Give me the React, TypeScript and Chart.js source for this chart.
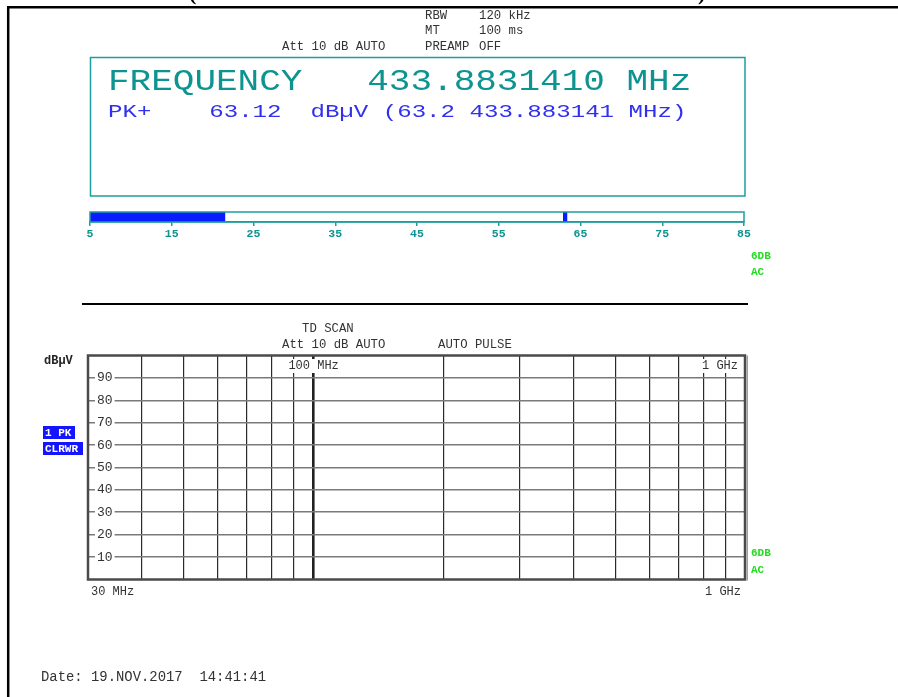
import React, { useEffect, useRef } from "react";
import { Chart, registerables } from "chart.js";

Chart.register(...registerables);

const MONO = '"Liberation Mono", "DejaVu Sans Mono", monospace';

// ---- data ----
const freqMinMHz = 30;
const freqMaxMHz = 1000;
const freqGridMHz = [40, 50, 60, 70, 80, 90, 100, 200, 300, 400, 500, 600, 700, 800, 900];
const levelMin = 0;
const levelMax = 100;
const levelTicks = [10, 20, 30, 40, 50, 60, 70, 80, 90];
const traceFreqMHz: number[] = [];
const traceLevel: number[] = [];

const meterMin = 5;
const meterMax = 85;
const meterTicks = [5, 15, 25, 35, 45, 55, 65, 75, 85];
const meterLevel = 21.5;
const peakLevel = 63.12;

const headerRows = [
  ["RBW", "120 kHz"],
  ["MT", "100 ms"],
  ["PREAMP", "OFF"],
];
const freqLine = "FREQUENCY   433.8831410 MHz";
const pkLine = "PK+    63.12  dBµV (63.2 433.883141 MHz)";
const dateLine = "Date: 19.NOV.2017  14:41:41";

const TEAL = "#1c9e9e";
const TEAL_TXT = "#0e9490";
const BLUE = "#0a1cff";
const GREEN = "#22dd22";
const GREY_TXT = "#333";

function txt(ctx: CanvasRenderingContext2D, s: string, x: number, y: number, font: string, color: string, align: CanvasTextAlign = "left") {
  ctx.font = font;
  ctx.fillStyle = color;
  ctx.textAlign = align;
  ctx.textBaseline = "middle";
  ctx.fillText(s, x, y);
}

function txtScaled(ctx: CanvasRenderingContext2D, s: string, x: number, y: number, font: string, color: string, sy: number) {
  ctx.save();
  ctx.translate(x, y);
  ctx.scale(1, sy);
  txt(ctx, s, 0, 0, font, color);
  ctx.restore();
}

function txtBox(ctx: CanvasRenderingContext2D, s: string, x: number, y: number, font: string, color: string, align: CanvasTextAlign) {
  ctx.font = font;
  const w = ctx.measureText(s).width;
  let lx = x;
  if (align === "center") lx = x - w / 2;
  else if (align === "right") lx = x - w;
  ctx.fillStyle = "#fff";
  ctx.fillRect(lx - 2, y - 7, w + 4, 14);
  txt(ctx, s, x, y, font, color, align);
}

const pagePlugin = {
  id: "pageDecor",
  afterDraw(chart: any) {
    const ctx: CanvasRenderingContext2D = chart.ctx;
    const { left, right, top, bottom } = chart.chartArea;
    const xs = chart.scales.x;
    ctx.save();

    // page frame
    ctx.strokeStyle = "#000";
    ctx.lineWidth = 2.5;
    ctx.beginPath();
    ctx.moveTo(8.2, 697);
    ctx.lineTo(8.2, 7.2);
    ctx.lineTo(898, 7.2);
    ctx.stroke();

    // partial parens at the very top
    ctx.font = "bold 22px serif";
    ctx.fillStyle = "#000";
    ctx.textAlign = "left";
    ctx.textBaseline = "alphabetic";
    ctx.fillText("(", 189, 0);
    ctx.fillText(")", 698, 0);

    const small = `12.3px ${MONO}`;
    // header
    txt(ctx, headerRows[0][0], 425, 16, small, GREY_TXT);
    txt(ctx, headerRows[0][1], 479, 16, small, GREY_TXT);
    txt(ctx, headerRows[1][0], 425, 31, small, GREY_TXT);
    txt(ctx, headerRows[1][1], 479, 31, small, GREY_TXT);
    txt(ctx, "Att 10 dB AUTO", 282, 47, small, GREY_TXT);
    txt(ctx, headerRows[2][0], 425, 47, small, GREY_TXT);
    txt(ctx, headerRows[2][1], 479, 47, small, GREY_TXT);

    // frequency display box
    ctx.strokeStyle = TEAL;
    ctx.lineWidth = 1.5;
    ctx.strokeRect(90.5, 57.5, 654.5, 138.5);
    txtScaled(ctx, freqLine, 108, 82.5, `36px ${MONO}`, TEAL_TXT, 0.8);
    txtScaled(ctx, pkLine, 108, 112, `24.1px ${MONO}`, "#3030ee", 0.8);

    // 6DB AC (upper)
    const gfont = `bold 11px ${MONO}`;
    txt(ctx, "6DB", 751, 256, gfont, GREEN);
    txt(ctx, "AC", 751, 272, gfont, GREEN);

    // separator line
    ctx.strokeStyle = "#000";
    ctx.lineWidth = 1.8;
    ctx.beginPath();
    ctx.moveTo(82, 304);
    ctx.lineTo(748, 304);
    ctx.stroke();

    // scan header
    txt(ctx, "TD SCAN", 302, 329, small, GREY_TXT);
    txt(ctx, "Att 10 dB AUTO", 282, 345, small, GREY_TXT);
    txt(ctx, "AUTO PULSE", 438, 345, small, GREY_TXT);

    // unit label
    txt(ctx, "dBµV", 44, 361, `bold 12px ${MONO}`, "#222");

    // trace labels
    ctx.fillStyle = "#1414ff";
    ctx.fillRect(43, 426, 32, 13);
    ctx.fillRect(43, 442, 40, 13);
    txt(ctx, "1 PK", 45, 433, `bold 11px ${MONO}`, "#fff");
    txt(ctx, "CLRWR", 45, 449, `bold 11px ${MONO}`, "#fff");

    // plot frame
    ctx.strokeStyle = "#4a4a4a";
    ctx.lineWidth = 2.5;
    ctx.strokeRect(left, top, right - left, bottom - top);
    ctx.strokeStyle = "#9a9a9a";
    ctx.lineWidth = 1.5;
    ctx.beginPath();
    ctx.moveTo(right + 2.2, top);
    ctx.lineTo(right + 2.2, bottom + 1);
    ctx.stroke();

    // frequency labels inside plot
    const ff = `12px ${MONO}`;
    txtBox(ctx, "100 MHz", xs.getPixelForValue(100), 366, ff, GREY_TXT, "center");
    txtBox(ctx, "1 GHz", xs.getPixelForValue(freqMaxMHz) - 7, 366, ff, GREY_TXT, "right");

    // bottom axis labels
    txt(ctx, "30 MHz", xs.getPixelForValue(freqMinMHz) + 3, 592, ff, GREY_TXT);
    txt(ctx, "1 GHz", xs.getPixelForValue(freqMaxMHz) - 4, 592, ff, GREY_TXT, "right");

    // 6DB AC (lower)
    txt(ctx, "6DB", 751, 553, gfont, GREEN);
    txt(ctx, "AC", 751, 570, gfont, GREEN);

    // date
    txt(ctx, dateLine, 41, 677, `13.9px ${MONO}`, GREY_TXT);

    ctx.restore();
  },
};

const meterPlugin = {
  id: "meterFrame",
  afterDraw(chart: any) {
    const ctx: CanvasRenderingContext2D = chart.ctx;
    const { left, right, top, bottom } = chart.chartArea;
    ctx.save();
    ctx.strokeStyle = TEAL;
    ctx.lineWidth = 1.5;
    ctx.strokeRect(left, top, right - left, bottom - top);
    ctx.restore();
  },
};

export default function App() {
  const mainRef = useRef<HTMLCanvasElement | null>(null);
  const meterRef = useRef<HTMLCanvasElement | null>(null);

  useEffect(() => {
    if (!mainRef.current || !meterRef.current) return;

    const main = new Chart(mainRef.current, {
      type: "line",
      data: {
        datasets: [
          {
            label: "1 PK CLRWR",
            data: traceFreqMHz.map((f, i) => ({ x: f, y: traceLevel[i] })),
            borderColor: "#1414ff",
            borderWidth: 1,
            pointRadius: 0,
          },
        ],
      },
      options: {
        responsive: false,
        animation: false,
        events: [],
        layout: { padding: { left: 88, right: 153, top: 355.5, bottom: 117.5 } },
        plugins: { legend: { display: false }, tooltip: { enabled: false } },
        scales: {
          x: {
            type: "logarithmic",
            min: freqMinMHz,
            max: freqMaxMHz,
            afterBuildTicks: (s: any) => {
              s.ticks = freqGridMHz.map((v) => ({ value: v }));
            },
            afterFit: (s: any) => {
              s.height = 0;
            },
            ticks: { display: false },
            border: { display: false },
            grid: {
              drawTicks: false,
              color: (c: any) => (c.tick && c.tick.value === 100 ? "#222" : "#2a2a2a"),
              lineWidth: (c: any) => (c.tick && c.tick.value === 100 ? 2.6 : 1.2),
            },
          },
          y: {
            type: "linear",
            min: levelMin,
            max: levelMax,
            afterBuildTicks: (s: any) => {
              s.ticks = levelTicks.map((v) => ({ value: v }));
            },
            afterFit: (s: any) => {
              s.width = 0;
            },
            border: { display: false },
            grid: { drawTicks: false, color: "#7a7a7a", lineWidth: 1.6 },
            ticks: {
              mirror: true,
              padding: 9,
              color: GREY_TXT,
              font: { family: MONO, size: 13 },
              showLabelBackdrop: true,
              backdropColor: "#fff",
              backdropPadding: { left: 2, right: 2, top: 1, bottom: 1 },
            },
          },
        },
      },
      plugins: [pagePlugin],
    } as any);

    const meter = new Chart(meterRef.current, {
      type: "bar",
      data: {
        labels: ["level"],
        datasets: [
          {
            data: [[meterMin, meterLevel]],
            backgroundColor: BLUE,
            barPercentage: 1,
            categoryPercentage: 1,
            grouped: false,
            borderSkipped: false,
          },
          {
            data: [[peakLevel - 0.22, peakLevel + 0.22]],
            backgroundColor: BLUE,
            barPercentage: 1,
            categoryPercentage: 1,
            grouped: false,
            borderSkipped: false,
          },
        ],
      },
      options: {
        indexAxis: "y",
        responsive: false,
        animation: false,
        events: [],
        layout: { padding: { left: 30, right: 36, top: 12, bottom: 10 } },
        plugins: { legend: { display: false }, tooltip: { enabled: false } },
        scales: {
          x: {
            type: "linear",
            min: meterMin,
            max: meterMax,
            afterBuildTicks: (s: any) => {
              s.ticks = meterTicks.map((v) => ({ value: v }));
            },
            afterFit: (s: any) => {
              s.height = 18;
            },
            ticks: {
              color: TEAL_TXT,
              font: { family: MONO, size: 11.5, weight: "bold" },
              padding: 1.5,
              maxRotation: 0,
              autoSkip: false,
            },
            grid: { drawOnChartArea: false, drawTicks: true, tickLength: 4, color: TEAL, lineWidth: 1.5 },
            border: { color: TEAL, width: 1.5 },
          },
          y: { display: false },
        },
      },
      plugins: [meterPlugin],
    } as any);

    return () => {
      main.destroy();
      meter.destroy();
    };
  }, []);

  return (
    <div style={{ position: "absolute", left: 0, top: 0, width: 898, height: 697, background: "#fff", overflow: "hidden" }}>
      <canvas ref={mainRef} width={898} height={697} style={{ position: "absolute", left: 0, top: 0, width: 898, height: 697 }} />
      <canvas ref={meterRef} width={720} height={50} style={{ position: "absolute", left: 60, top: 200, width: 720, height: 50 }} />
    </div>
  );
}
